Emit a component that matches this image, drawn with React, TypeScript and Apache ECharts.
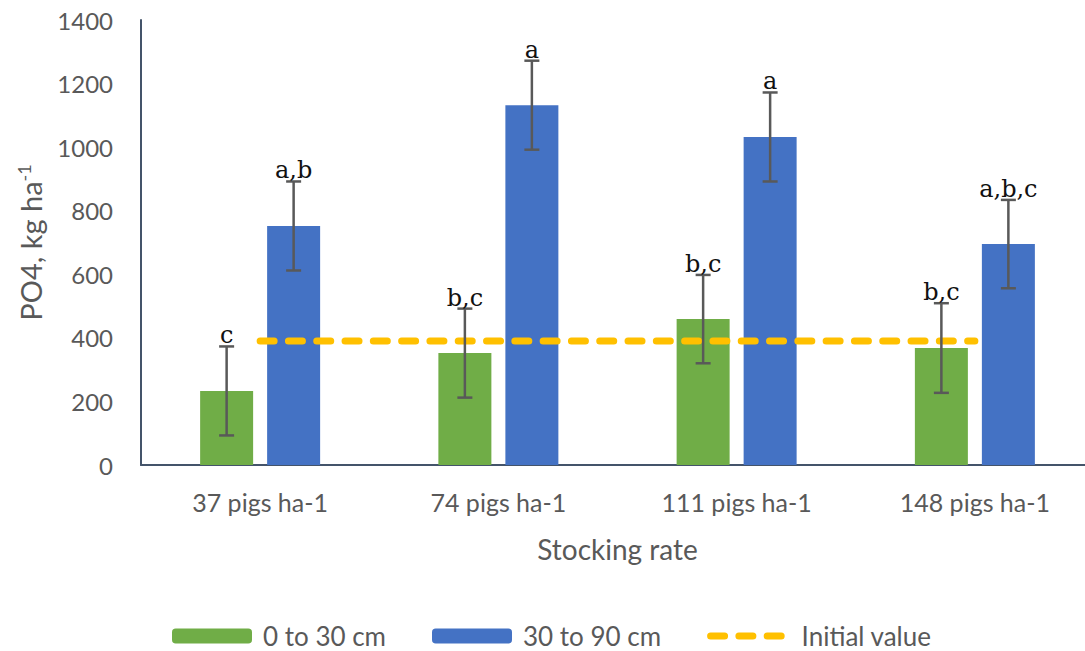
import React, { useEffect, useRef } from "react";
import * as echarts from "echarts";

const categories = ["37 pigs ha-1", "74 pigs ha-1", "111 pigs ha-1", "148 pigs ha-1"];
const shallow = [233, 352, 459, 368];
const deep = [752, 1132, 1032, 695];
const shallowErr = [140, 140, 139, 141];
const deepErr = [140, 140, 140, 139];
const initialValue = [390, 390, 390, 390];
const shallowLetters = ["c", "b,c", "b,c", "b,c"];
const deepLetters = ["a,b", "a", "a", "a,b,c"];
const seriesNames = ["0 to 30 cm", "30 to 90 cm", "Initial value"];

const BAR_W = 53;
const BAR_GAP = 14;
const OFFSET = (BAR_W + BAR_GAP) / 2;
const DASH = { color: "#FFC000", width: 7, type: [14, 14.3], cap: "round" };

function errorSeries(values: number[], errs: number[], letters: string[], sign: number) {
  return {
    type: "custom",
    name: "err" + sign,
    z: 10,
    clip: false,
    encode: { x: 0, y: 1 },
    data: values.map((v, i) => [i, v, errs[i]]),
    renderItem: (params: any, api: any) => {
      const i = api.value(0);
      const v = api.value(1);
      const e = api.value(2);
      const idx = params.dataIndex;
      const top = api.coord([i, v + e]);
      const bot = api.coord([i, v - e]);
      const x = top[0] + sign * OFFSET;
      const half = 7.5;
      const stroke = { stroke: "#595959", lineWidth: 2.5 };
      return {
        type: "group",
        children: [
          { type: "line", shape: { x1: x, y1: top[1], x2: x, y2: bot[1] }, style: stroke },
          { type: "line", shape: { x1: x - half, y1: top[1], x2: x + half, y2: top[1] }, style: stroke },
          { type: "line", shape: { x1: x - half, y1: bot[1], x2: x + half, y2: bot[1] }, style: stroke },
          {
            type: "text",
            style: {
              text: letters[idx],
              x: x,
              y: top[1] + 1,
              align: "center",
              verticalAlign: "bottom",
              fontFamily: "DejaVu Serif",
              fontSize: 24,
              fill: "#111111",
            },
          },
        ],
      };
    },
  };
}

export default function App() {
  const ref = useRef<HTMLDivElement>(null);
  useEffect(() => {
    if (!ref.current) return;
    const chart = echarts.init(ref.current, undefined, { renderer: "svg" });
    chart.setOption({
      animation: false,
      backgroundColor: "#ffffff",
      grid: { left: 141, top: 20, right: -9, bottom: 186, outerBoundsMode: "none", containLabel: false },
      legend: {
        data: [
          { name: seriesNames[0] },
          { name: seriesNames[1] },
          { name: seriesNames[2], itemStyle: { opacity: 0 }, lineStyle: DASH },
        ],
        left: 172,
        top: 623,
        padding: 0,
        itemWidth: 80,
        itemHeight: 15,
        itemGap: 46,
        textStyle: { fontFamily: "Lato", fontSize: 26, color: "#595959", padding: [0, 0, 0, 6] },
      },
      xAxis: {
        type: "category",
        data: categories,
        name: "Stocking rate",
        nameLocation: "middle",
        nameGap: 70,
        nameTextStyle: { fontFamily: "Lato", fontSize: 28, color: "#595959" },
        axisLine: { lineStyle: { color: "#44546A", width: 2 } },
        axisTick: { show: false },
        axisLabel: { fontFamily: "Lato", fontSize: 25, color: "#595959", margin: 24 },
      },
      yAxis: {
        type: "value",
        min: 0,
        max: 1400,
        interval: 200,
        name: "PO4, kg ha{sup|-1}",
        nameLocation: "middle",
        nameGap: 96,
        nameTextStyle: {
          fontFamily: "Lato",
          fontSize: 29,
          color: "#595959",
          rich: { sup: { fontFamily: "Lato", fontSize: 18, color: "#595959", verticalAlign: "top", padding: [0, 0, 12, 0] } },
        },
        axisLine: { show: true, lineStyle: { color: "#44546A", width: 2 } },
        axisTick: { show: false },
        splitLine: { show: false },
        axisLabel: {
          fontFamily: "Lato",
          fontSize: 24,
          color: "#595959",
          margin: 28,
          formatter: (v: number) => String(v),
        },
      },
      series: [
        {
          type: "bar",
          name: seriesNames[0],
          data: shallow,
          barWidth: BAR_W,
          barGap: (BAR_GAP / BAR_W) * 100 + "%",
          itemStyle: { color: "#70AD47" },
        },
        {
          type: "bar",
          name: seriesNames[1],
          data: deep,
          barWidth: BAR_W,
          barGap: (BAR_GAP / BAR_W) * 100 + "%",
          itemStyle: { color: "#4472C4" },
        },
        {
          type: "line",
          name: seriesNames[2],
          data: initialValue,
          z: 5,
          symbol: "none",
          showSymbol: false,
          itemStyle: { color: "#FFC000" },
          lineStyle: DASH,
        },
        errorSeries(shallow, shallowErr, shallowLetters, -1),
        errorSeries(deep, deepErr, deepLetters, 1),
      ],
    });
    return () => chart.dispose();
  }, []);
  return (
    <div
      ref={ref}
      style={{ position: "fixed", left: 0, top: 0, width: 1085, height: 651, background: "#fff" }}
    />
  );
}
